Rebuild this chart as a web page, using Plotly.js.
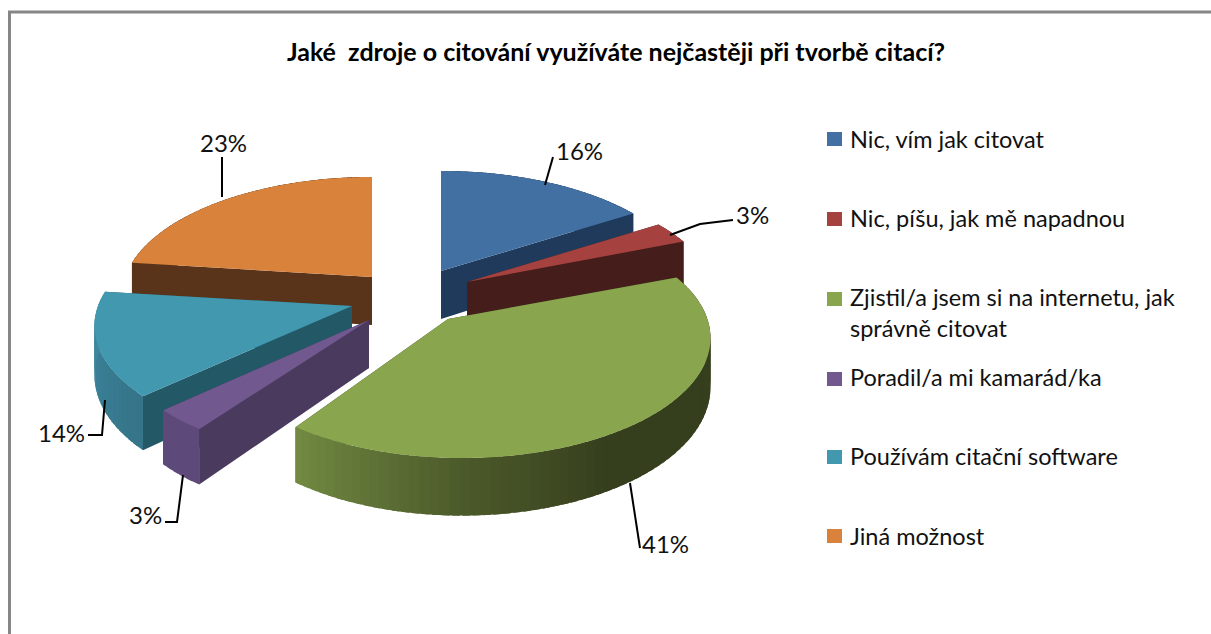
<!DOCTYPE html>
<html>
<head>
<meta charset="utf-8">
<script src="https://cdn.plot.ly/plotly-3.0.1.min.js"></script>
<style>html,body{margin:0;padding:0;background:#fff;overflow:hidden}#chart{width:1211px;height:634px}</style>
</head>
<body>
<div id="chart"></div>
<script>
var chartTitle = 'Jaké\u00A0\u00A0zdroje o citování využíváte nejčastěji při tvorbě citací?';
var categories = ['Nic, vím jak citovat','Nic, píšu, jak mě napadnou','Zjistil/a jsem si na internetu, jak<br>správně citovat','Poradil/a mi kamarád/ka','Používám citační software','Jiná možnost'];
var values = [16,3,41,3,14,23];
var topColors = ['#4270A3','#A54240','#89A54E','#71588F','#4198AF','#D9823C'];
var wallColors = ['#1F3A5A','#451D1B','#363F1D','#4A3A5E','#235866','#5A341A'];

// Exploded-slice placement: where each slice's centre lands, and its width.
var centreX = [441,467,462,369,352,372];
var centreY = [271,282,318,320,306,277];
var radiusX = [248,247,245,250,254,247];
var paintOrder = [0,5,1,4,3,2];

var RY = 116.7, PERSP = 0.1667, DEPTH = 48, STEP = 2;
var rad = Math.PI/180;

function project(i, deg, drop){
  var X = Math.sin(deg*rad), Z = Math.cos(deg*rad), s = 1/(1+PERSP*Z);
  return [centreX[i]+radiusX[i]*X*s, centreY[i]-RY*Z*s+(drop?DEPTH*s:0)];
}
function mix(a,b,t){
  var pa=[1,3,5].map(function(k){return parseInt(a.substr(k,2),16)});
  var pb=[1,3,5].map(function(k){return parseInt(b.substr(k,2),16)});
  return 'rgb('+pa.map(function(v,k){return Math.round(v+(pb[k]-v)*t)}).join(',')+')';
}
function rimColor(i,deg){
  if(i===2){
    if(deg>180) return mix('#4C5A2A','#728A42',(deg-180)/36);
    if(deg>150) return mix('#363F1D','#4C5A2A',(deg-150)/30);
    return '#363F1D';
  }
  if(i===4) return mix('#3F8BA4','#357488',(277.2-deg)/50.4);
  if(i===3) return '#5E4A7A';
  return wallColors[i];
}
function poly(pts,color){
  return {type:'scatter',mode:'none',x:pts.map(function(p){return p[0]}),y:pts.map(function(p){return p[1]}),
    fill:'toself',fillcolor:color,hoverinfo:'skip',showlegend:false};
}

var starts=[],run=0;
values.forEach(function(v){starts.push(run);run+=v*3.6;});

var traces=[];
paintOrder.forEach(function(i){
  var a=starts[i], b=a+values[i]*3.6, k, pts;
  var apex=[centreX[i],centreY[i]];
  if(i===2) apex=[448,319];
  var apexLow=[apex[0],apex[1]+DEPTH];
  // flat inner walls
  traces.push(poly([apex,project(i,a,false),project(i,a,true),apexLow],wallColors[i]));
  traces.push(poly([apex,project(i,b,false),project(i,b,true),apexLow],wallColors[i]));
  // outer rim, shaded strip by strip; strips overlap so no seams show
  for(k=a;k<b;k+=STEP){
    var e=Math.min(k+STEP+1.5,b), m=Math.min(k+STEP,b);
    traces.push(poly([project(i,k,false),project(i,e,false),project(i,e,true),project(i,k,true)],rimColor(i,(k+m)/2)));
  }
  // top face
  pts=[apex];
  for(k=a;k<b;k+=1) pts.push(project(i,k,false));
  pts.push(project(i,b,false));
  traces.push(poly(pts,topColors[i]));
});

// Leader lines and percent labels
var leaderX = [[545,553],[670,700,733],[630,640],[183,177,165],[105,102,88],[222,222]];
var leaderY = [[185,157],[235,224,220],[483,548],[475,522,522],[400,435,435],[197,157]];
var labelX = [579,752,665,145,61,223];
var labelY = [150,214,543,514,432,142];
leaderX.forEach(function(lx,i){
  traces.push({type:'scatter',mode:'lines',x:lx,y:leaderY[i],line:{color:'#000',width:2},hoverinfo:'skip',showlegend:false});
});

var FONT='Lato, Carlito, sans-serif';
var annotations=values.map(function(v,i){
  return {xref:'x',yref:'y',x:labelX[i],y:labelY[i],text:v+'%',showarrow:false,xanchor:'center',yanchor:'middle',font:{family:FONT,size:24,color:'#111'}};
});
var legendTextY=[139,218,312,377,456,536];
var swatchY=[139,219,299,379,457,536];
var shapes=[
  {type:'line',xref:'x',yref:'y',x0:9.5,y0:12,x1:9.5,y1:634,line:{color:'#868686',width:3},layer:'below'},
  {type:'line',xref:'x',yref:'y',x0:8,y0:12,x1:1211,y1:12,line:{color:'#868686',width:3},layer:'below'}
];
categories.forEach(function(c,i){
  annotations.push({xref:'x',yref:'y',x:848,y:legendTextY[i],text:c,align:'left',showarrow:false,xanchor:'left',yanchor:'middle',font:{family:FONT,size:23.5,color:'#111'}});
  shapes.push({type:'rect',xref:'x',yref:'y',x0:827,x1:842,y0:swatchY[i]-7,y1:swatchY[i]+7,line:{width:0},fillcolor:topColors[i]});
});

var layout={
  width:1211,height:634,margin:{l:0,r:0,t:0,b:0},paper_bgcolor:'#fff',plot_bgcolor:'#fff',showlegend:false,
  title:{text:chartTitle,x:616/1211,xanchor:'center',xref:'paper',y:1-52/634,yanchor:'middle',yref:'paper',font:{family:FONT,size:25,color:'#000',weight:700}},
  xaxis:{range:[0,1211],visible:false,fixedrange:true},
  yaxis:{range:[634,0],visible:false,fixedrange:true},
  annotations:annotations,shapes:shapes
};
Plotly.newPlot('chart',traces,layout,{displayModeBar:false,staticPlot:true});
</script>
</body>
</html>
